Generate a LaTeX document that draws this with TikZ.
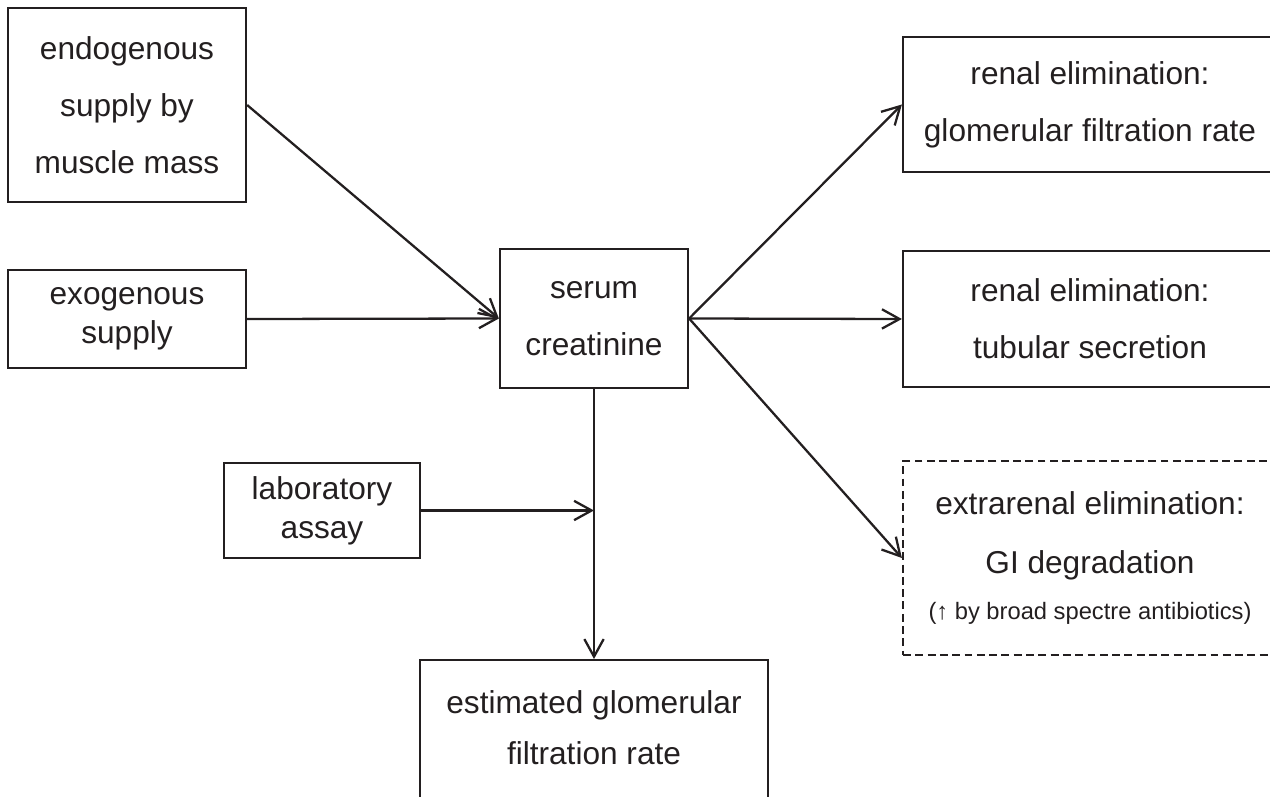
\documentclass[tikz,border=0pt]{standalone}
\usepackage{fontspec}
\setmainfont{Liberation Sans}
\usetikzlibrary{arrows.meta,positioning,calc}
\definecolor{ink}{HTML}{231F20}
\tikzset{
  box/.style={draw=ink, line width=1.3pt, text=ink, align=center, inner sep=0pt,
    font=\fontsize{18}{32.4}\selectfont},
  flow/.style={draw=ink, line width=1.3pt, -{Straight Barb[length=10pt,width=11pt]}},
}
\begin{document}
\begin{tikzpicture}[x=0.02cm, y=-0.02cm]
	\useasboundingbox (0,0) rectangle (1270,797);
	\clip (0,0) rectangle (1270,797);
	% supply side
	\node[box, minimum width=4.76cm, minimum height=3.88cm] (endo) at (127,105) {endogenous\\supply by\\muscle mass};
	\node[box, minimum width=4.76cm, minimum height=1.96cm, font=\fontsize{18}{22.5}\selectfont] (exo) at (127,319) {exogenous\\supply};
	\node[box, minimum width=3.76cm, minimum height=2.78cm] (serum) at (594,318.5) {serum\\creatinine};
	\node[box, minimum width=3.92cm, minimum height=1.9cm, font=\fontsize{18}{22}\selectfont] (lab) at (322,510.5) {laboratory\\assay};
	\node[box, minimum width=6.96cm, inner ysep=0.6cm, text depth=2cm, anchor=north, font=\fontsize{18}{29}\selectfont] (egfr) at (594,659) {estimated glomerular\\filtration rate};
	% elimination side
	\node[box, minimum width=7.48cm, minimum height=2.7cm] (gfr) at (1090,104.5) {renal elimination:\\glomerular filtration rate};
	\node[box, minimum width=7.48cm, minimum height=2.72cm] (tub) at (1090,319) {renal elimination:\\tubular secretion};
	\node[box, dash pattern=on 4.5pt off 2.5pt, minimum width=7.48cm, minimum height=3.88cm, font=\fontsize{18}{33.6}\selectfont] (extra) at (1090,558) {extrarenal elimination:\\GI degradation\\[-7.6pt]{\fontsize{13.5}{16}\selectfont(↑ by broad spectre antibiotics)}};
	\coordinate (join) at (serum.south |- lab.east);
	\draw[flow] (endo.east) -- (serum.west);
	\draw[flow] (exo.east) -- (serum.west);
	\draw[flow] (serum.east) -- (gfr.west);
	\draw[flow] (serum.east) -- (tub.west);
	\draw[flow] (serum.east) -- (extra.west);
	\draw[flow] (serum.south) -- (egfr.north);
	\draw[flow] (lab.east) -- (join);
\end{tikzpicture}
\end{document}
